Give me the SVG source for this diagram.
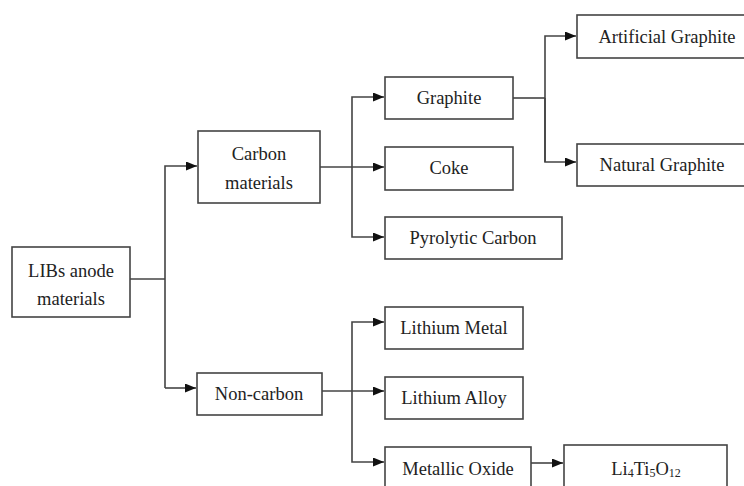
<svg xmlns="http://www.w3.org/2000/svg" width="744" height="486" viewBox="0 0 744 486">
<defs>
<marker id="ah" viewBox="0 0 11 9" refX="11" refY="4.5" markerWidth="11" markerHeight="9" markerUnits="userSpaceOnUse" orient="auto">
<path d="M0,0 L11,4.5 L0,9 Z" fill="#111"/>
</marker>
<style>
.box{fill:#fff;stroke:#444;stroke-width:1.6}
.t{font-family:"Liberation Serif","Times New Roman",serif;font-size:18.5px;fill:#222;text-anchor:middle}
.c{fill:none;stroke:#444;stroke-width:1.6}
.s{font-size:12px}
</style>
</defs>
<rect width="744" height="486" fill="#fff"/>
<g id="connectors">
<path class="c" d="M130,279 H165"/>
<path class="c" d="M165,388 V166 H197" marker-end="url(#ah)"/>
<path class="c" d="M165,388 H196" marker-end="url(#ah)"/>
<path class="c" d="M320,167 H384" marker-end="url(#ah)"/>
<path class="c" d="M352,167 V97 H384" marker-end="url(#ah)"/>
<path class="c" d="M352,167 V237 H384" marker-end="url(#ah)"/>
<path class="c" d="M513,98 H545"/>
<path class="c" d="M545,162 V36 H576" marker-end="url(#ah)"/>
<path class="c" d="M545,98 V162 H576" marker-end="url(#ah)"/>
<path class="c" d="M322,391 H384" marker-end="url(#ah)"/>
<path class="c" d="M352,391 V322 H384" marker-end="url(#ah)"/>
<path class="c" d="M352,391 V462 H384" marker-end="url(#ah)"/>
<path class="c" d="M531,463 H563" marker-end="url(#ah)"/>
</g>
<g id="libs"><rect class="box" x="12" y="247" width="118" height="70"/><text class="t" x="71" y="277">LIBs anode</text><text class="t" x="71" y="305">materials</text></g>
<g id="carbon"><rect class="box" x="198" y="131" width="122" height="72"/><text class="t" x="259" y="160">Carbon</text><text class="t" x="259" y="189">materials</text></g>
<g id="graphite"><rect class="box" x="385" y="77" width="128" height="42"/><text class="t" x="449" y="104">Graphite</text></g>
<g id="coke"><rect class="box" x="385" y="147" width="128" height="43"/><text class="t" x="449" y="174">Coke</text></g>
<g id="pyrolytic"><rect class="box" x="385" y="217" width="177" height="42"/><text class="t" x="473" y="244">Pyrolytic Carbon</text></g>
<g id="artificial"><rect class="box" x="577" y="15" width="180" height="43"/><text class="t" x="667" y="43">Artificial Graphite</text></g>
<g id="natural"><rect class="box" x="577" y="144" width="180" height="42"/><text class="t" x="662" y="171">Natural Graphite</text></g>
<g id="noncarbon"><rect class="box" x="197" y="373" width="125" height="42"/><text class="t" x="259" y="400">Non-carbon</text></g>
<g id="limetal"><rect class="box" x="385" y="307" width="138" height="42"/><text class="t" x="454" y="334">Lithium Metal</text></g>
<g id="lialloy"><rect class="box" x="385" y="377" width="138" height="42"/><text class="t" x="454" y="404">Lithium Alloy</text></g>
<g id="oxide"><rect class="box" x="385" y="447" width="146" height="50"/><text class="t" x="458" y="475">Metallic Oxide</text></g>
<g id="lto"><rect class="box" x="564" y="445" width="163" height="52"/><text class="t" x="646" y="475">Li<tspan class="s" dy="2">4</tspan><tspan dy="-2">Ti</tspan><tspan class="s" dy="2">5</tspan><tspan dy="-2">O</tspan><tspan class="s" dy="2">12</tspan></text></g>
</svg>
